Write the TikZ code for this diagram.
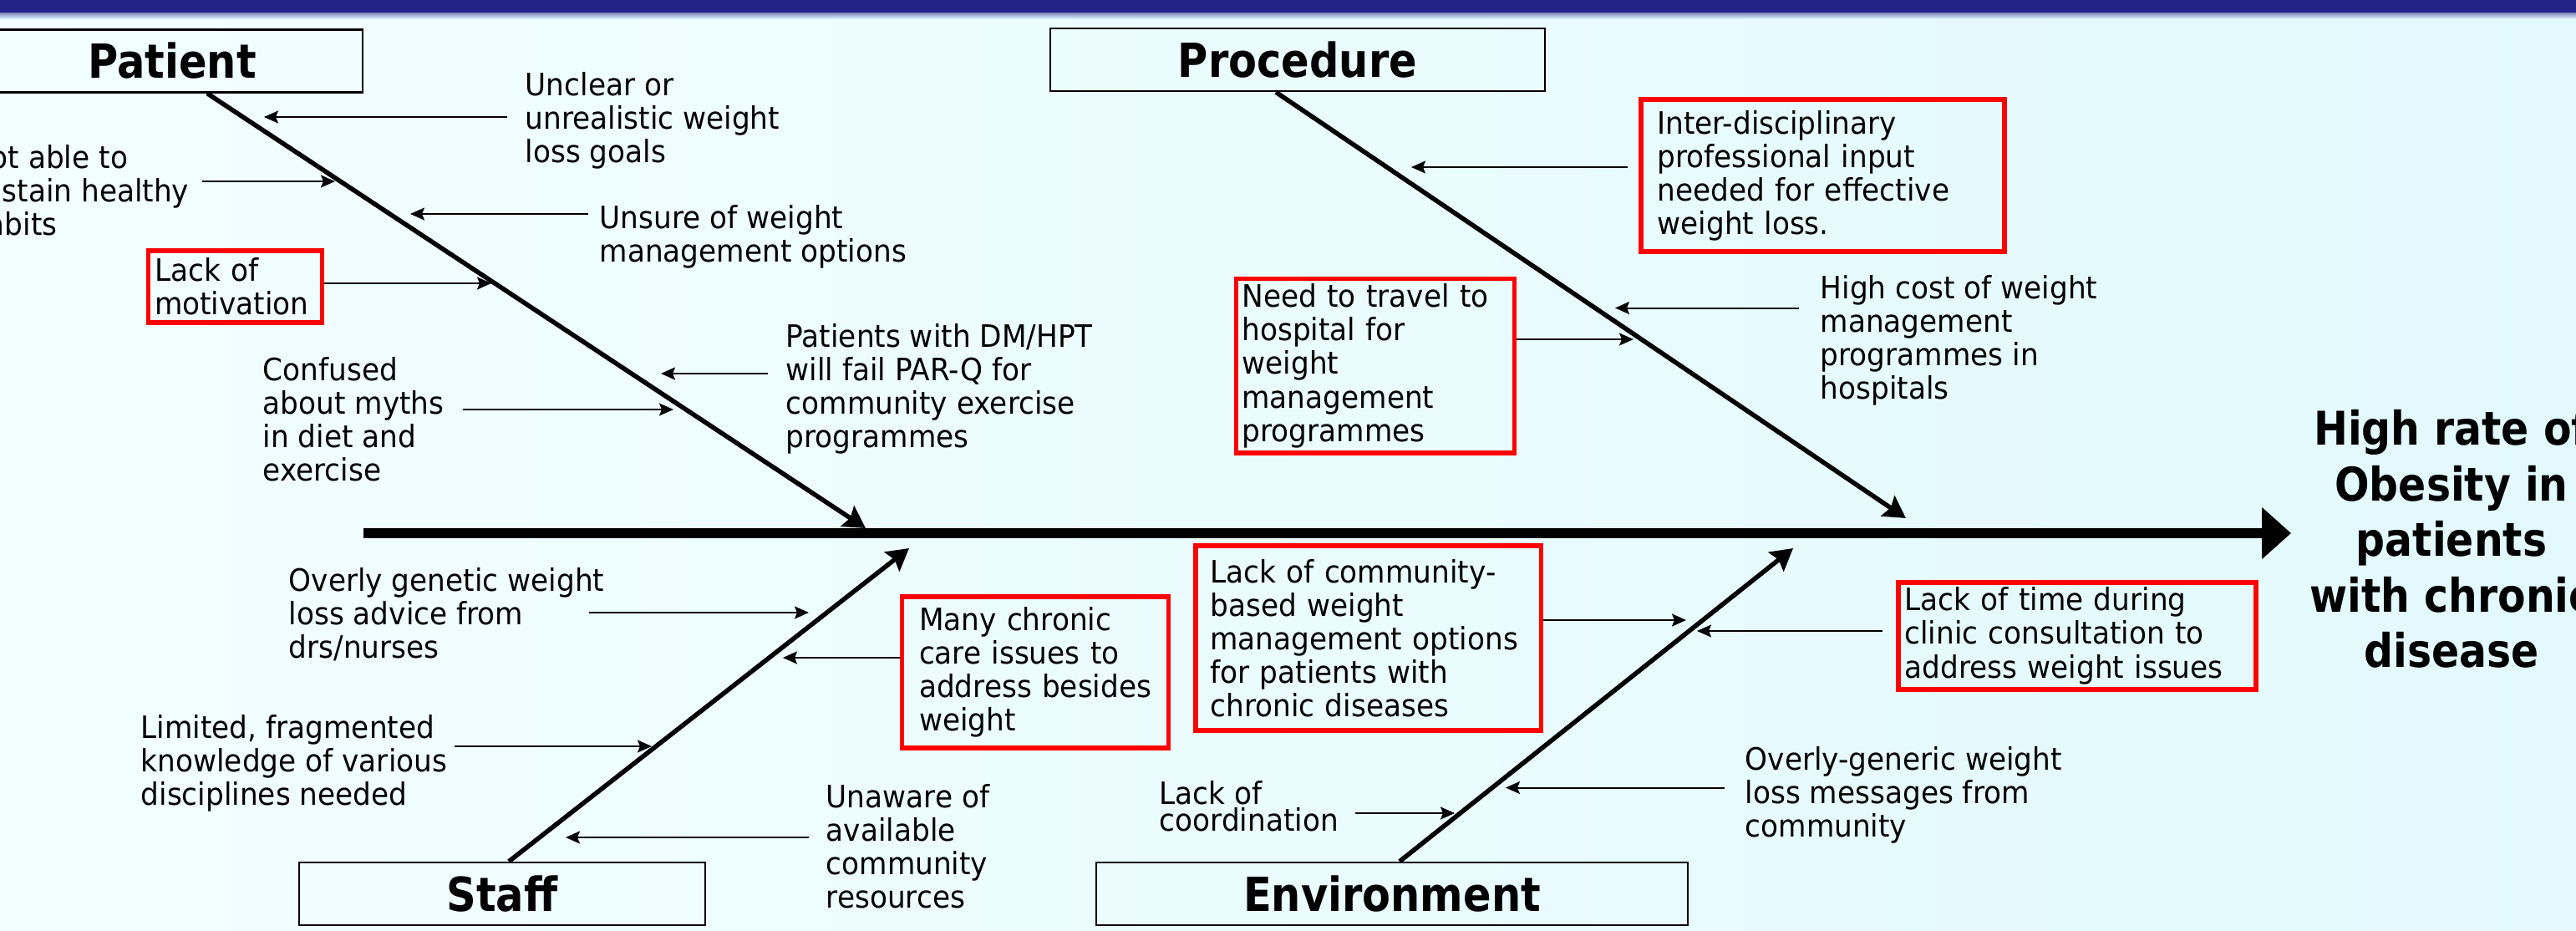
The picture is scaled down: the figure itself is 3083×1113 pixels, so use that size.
\documentclass[tikz,border=0pt]{standalone}
\usepackage{fontspec}
\setmainfont{DejaVu Sans}[FakeStretch=0.93]
\newfontfamily\headfont{DejaVu Sans}[FakeStretch=0.88]
\usepackage{tikz}
\usetikzlibrary{arrows.meta}
\definecolor{slidenavy}{RGB}{34,34,136}
\definecolor{bgleft}{RGB}{243,255,255}
\definecolor{bgmid}{RGB}{232,254,255}
\definecolor{bgright}{RGB}{226,249,253}

\begin{document}
\begin{tikzpicture}[x=0.1mm,y=-0.1mm,
  bodytext/.style={font=\fontsize{10.5pt}{11.4pt}\selectfont},
  cause/.style={bodytext,inner sep=0,align=left},
  redcause/.style={bodytext,draw=red,line width=0.55mm,align=left,inner ysep=0},
  category/.style={draw,line width=0.25mm,minimum height=7.5mm,font=\headfont\bfseries\fontsize{16pt}{18pt}\selectfont},
  effect/.style={inner sep=0,align=center,font=\headfont\bfseries\fontsize{15.8pt}{18.9pt}\selectfont},
  feed/.style={line width=0.2mm,-{Stealth[length=1.7mm,width=1.5mm,inset=0.3mm]}},
  bone/.style={line width=0.55mm,-{Stealth[length=2.6mm,width=2.9mm,inset=0.4mm]}},
  spine/.style={line width=1.2mm,-{Triangle[length=3.5mm,width=6mm]}}]
  % slide background and title strip
  \useasboundingbox (0,0) rectangle (3083,1113);
  \clip (0,0) rectangle (3083,1113);
  \shade[left color=bgleft,middle color=bgmid,right color=bgright] (0,0) rectangle (3083,1113);
  \fill[slidenavy] (0,0) rectangle (3083,15);
  \shade[top color=slidenavy!55!bgmid,bottom color=bgmid] (0,15) rectangle (3083,23);

  % the four categories
  \node[category,minimum width=45.6mm] at (206,73) (patient) {Patient};
  \node[category,minimum width=59.2mm] at (1553,71.5) (procedure) {Procedure};
  \node[category,minimum width=48.6mm] at (601,1069.5) (staff) {Staff};
  \node[category,minimum width=70.8mm] at (1666,1069.5) (environment) {Environment};

  \node[effect,anchor=north] at (2934,490) (outcome)
	{High rate of\\Obesity in\\patients\\with chronic\\disease};

  % spine
  \coordinate (tail) at (435,638);
  \coordinate (head) at (2742,638);
  \draw[spine] (tail) -- (head);

  % bones
  \coordinate (patientTip) at (1036,632);
  \coordinate (procedureTip) at (2281,620);
  \coordinate (staffTip) at (1088,656);
  \coordinate (environmentTip) at (2146,656);
  \draw[bone] ([xshift=4.2mm]patient.south) -- (patientTip);
  \draw[bone] ([xshift=-2.6mm]procedure.south) -- (procedureTip);
  \draw[bone] ([xshift=0.8mm]staff.north) -- (staffTip);
  \draw[bone] ([xshift=0.9mm]environment.north) -- (environmentTip);

  % Patient
  \node[cause,anchor=north west] at (628,86) (unclear) {Unclear or\\unrealistic weight\\loss goals};
  \node[cause,anchor=north east] at (227,173) (habits) {Not able to\\sustain healthy\\habits};
  \node[cause,anchor=north west] at (717,245) (unsure) {Unsure of weight\\management options};
  \node[redcause,text width=19.3mm,minimum width=20.8mm,minimum height=8.6mm,inner xsep=0.75mm]
	at (281.5,343) (motivation) {Lack of\\motivation};
  \node[cause,anchor=north west] at (314,427) (myths) {Confused\\about myths\\in diet and\\exercise};
  \node[cause,anchor=north west] at (940,386.5) (parq)
	{Patients with DM/HPT\\will fail PAR-Q for\\community exercise\\programmes};

  \coordinate (unclearTip) at (316,140);
  \coordinate (habitsTip) at (401,217);
  \coordinate (unsureTip) at (491,256);
  \coordinate (motivationTip) at (588,339);
  \coordinate (mythsTip) at (806,490);
  \coordinate (parqTip) at (791,447);
  \draw[feed,shorten <=2.1mm] (unclear.west |- unclearTip) -- (unclearTip);
  \draw[feed,shorten <=1.5mm] (habits.east |- habitsTip) -- (habitsTip);
  \draw[feed,shorten <=1.3mm] (unsure.west |- unsureTip) -- (unsureTip);
  \draw[feed] (motivation.east |- motivationTip) -- (motivationTip);
  \draw[feed,shorten <=24mm] (myths.west |- mythsTip) -- (mythsTip);
  \draw[feed,shorten <=2.1mm] (parq.west |- parqTip) -- (parqTip);

  % Procedure
  \node[redcause,text width=39.6mm,minimum width=43.5mm,minimum height=18.2mm,inner xsep=1.95mm]
	at (2181.5,210) (interdisc) {Inter-disciplinary\\professional input\\needed for effective\\weight loss.};
  \node[cause,anchor=north west] at (2178,329) (cost) {High cost of weight\\management\\programmes in\\hospitals};
  \node[redcause,text width=31.9mm,minimum width=33.3mm,minimum height=20.85mm,inner xsep=0.7mm]
	at (1646,437.75) (travel) {Need to travel to\\hospital for\\weight\\management\\programmes};

  \coordinate (interdiscTip) at (1689,200);
  \coordinate (costTip) at (1933,368.5);
  \coordinate (travelTip) at (1955,406);
  \draw[feed,shorten <=1.3mm] (interdisc.west |- interdiscTip) -- (interdiscTip);
  \draw[feed,shorten <=2.5mm] (cost.west |- costTip) -- (costTip);
  \draw[feed] (travel.east |- travelTip) -- (travelTip);

  % Staff
  \node[cause,anchor=north west] at (345,679) (advice) {Overly genetic weight\\loss advice from\\drs/nurses};
  \node[redcause,text width=27.8mm,minimum width=31.9mm,minimum height=18.1mm,inner xsep=2.05mm]
	at (1239,804.5) (chronic) {Many chronic\\care issues to\\\mbox{address besides}\\weight};
  \node[cause,anchor=north west] at (168,855) (knowledge) {Limited, fragmented\\knowledge of various\\disciplines needed};
  \node[cause,anchor=north west] at (988,938) (resources) {Unaware of\\available\\community\\resources};

  \coordinate (adviceTip) at (968,733);
  \coordinate (chronicTip) at (937,787);
  \coordinate (knowledgeTip) at (780,893);
  \coordinate (resourcesTip) at (677,1002);
  \draw[feed,shorten <=36mm] (advice.west |- adviceTip) -- (adviceTip);
  \draw[feed] (chronic.west |- chronicTip) -- (chronicTip);
  \draw[feed,shorten <=37.6mm] (knowledge.west |- knowledgeTip) -- (knowledgeTip);
  \draw[feed,shorten <=2mm] (resources.west |- resourcesTip) -- (resourcesTip);

  % Environment
  \node[redcause,text width=37.85mm,minimum width=41.35mm,minimum height=22.1mm,inner xsep=1.75mm]
	at (1637.75,763.5) (options) {Lack of community-\\based weight\\management options\\for patients with\\chronic diseases};
  \node[redcause,text width=41.3mm,minimum width=42.8mm,minimum height=12.8mm,inner xsep=0.75mm]
	at (2486,760.75) (consult) {Lack of time during\\clinic consultation to\\address weight issues};
  \node[cause,anchor=north west,font=\fontsize{10.5pt}{9.2pt}\selectfont] at (1387,933.5) (coordination) {Lack of\\coordination};
  \node[cause,anchor=north west] at (2088,893) (messages) {Overly-generic weight\\loss messages from\\community};

  \coordinate (optionsTip) at (2018,742);
  \coordinate (consultTip) at (2031,755);
  \coordinate (coordinationTip) at (1741,973);
  \coordinate (messagesTip) at (1802,942.5);
  \draw[feed] (options.east |- optionsTip) -- (optionsTip);
  \draw[feed,shorten <=1.6mm] (consult.west |- consultTip) -- (consultTip);
  \draw[feed,shorten <=23.5mm] (coordination.west |- coordinationTip) -- (coordinationTip);
  \draw[feed,shorten <=2.4mm] (messages.west |- messagesTip) -- (messagesTip);
\end{tikzpicture}
\end{document}
